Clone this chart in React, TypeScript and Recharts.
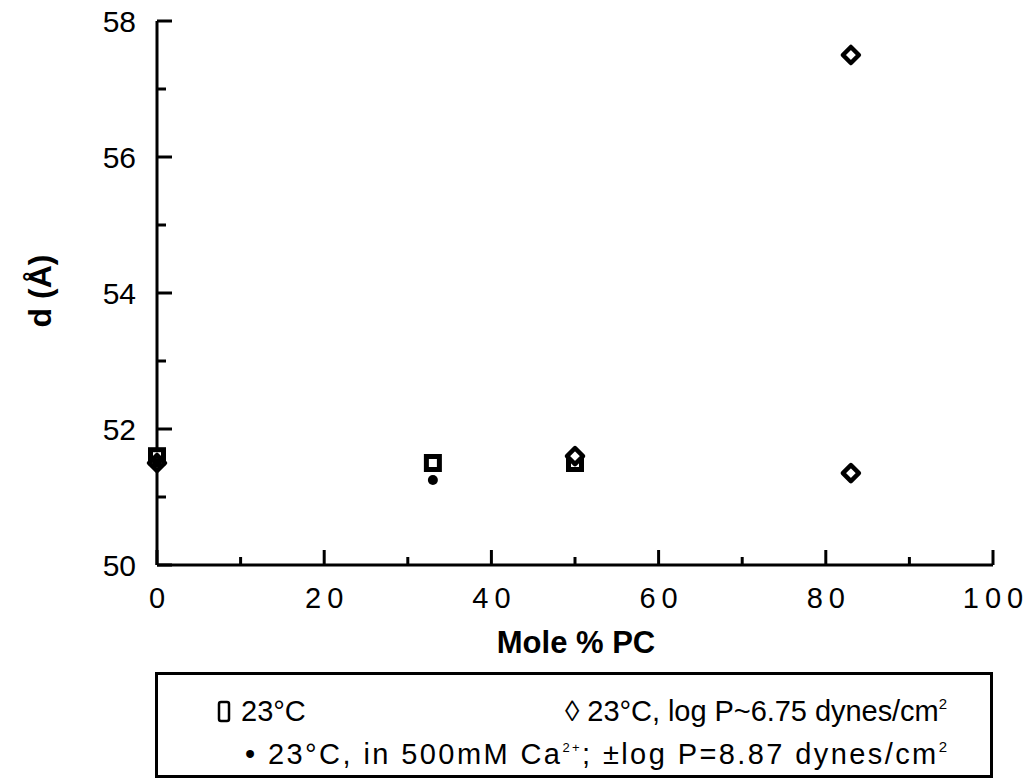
import React from 'react';
import { ScatterChart, Scatter, XAxis, YAxis } from 'recharts';

// Mole % PC values and d-spacing (Å)
const squareX = [0, 33, 50];
const squareY = [51.6, 51.5, 51.5];
const diamondX = [0, 50, 83, 83];
const diamondY = [51.5, 51.6, 57.5, 51.35];
const dotX = [0, 33];
const dotY = [51.5, 51.25];

const xTicks = [0, 10, 20, 30, 40, 50, 60, 70, 80, 90, 100];
const yTicks = [50, 51, 52, 53, 54, 55, 56, 57, 58];

const toPoints = (xs: number[], ys: number[]) => xs.map((x, i) => ({ x, y: ys[i] }));
const squareData = toPoints(squareX, squareY);
const diamondData = toPoints(diamondX, diamondY);
const dotData = toPoints(dotX, dotY);

const FONT = '"Liberation Sans", Arial, Helvetica, sans-serif';

const SquareShape = (p: any) => (
  <rect x={p.cx - 6.5} y={p.cy - 6.5} width={13} height={13} fill="#fff" stroke="#000" strokeWidth={5} />
);
const DiamondShape = (p: any) => (
  <polygon
    points={`${p.cx},${p.cy - 8} ${p.cx + 8},${p.cy} ${p.cx},${p.cy + 8} ${p.cx - 8},${p.cy}`}
    fill="#fff" stroke="#000" strokeWidth={4.5} strokeLinejoin="round"
  />
);
const DotShape = (p: any) => <circle cx={p.cx} cy={p.cy} r={5} fill="#000" />;

const XTick = (props: any) => {
  const { x, y, payload } = props;
  const major = payload.value % 20 === 0;
  return (
    <g>
      <line x1={x} x2={x} y1={y} y2={y - (major ? 15 : 8)} stroke="#000" strokeWidth={3} />
      {major && (
        <text x={x + 3} y={y + 43} textAnchor="middle" fontSize={29} letterSpacing={6} fontFamily={FONT} fill="#000">
          {payload.value}
        </text>
      )}
    </g>
  );
};

const YTick = (props: any) => {
  const { x, y, payload } = props;
  const major = payload.value % 2 === 0;
  return (
    <g>
      <line x1={x} x2={x + (major ? 15 : 9)} y1={y} y2={y} stroke="#000" strokeWidth={3} />
      {major && (
        <text x={x - 21} y={y} dy="0.36em" textAnchor="end" fontSize={30} fontFamily={FONT} fill="#000">
          {payload.value}
        </text>
      )}
    </g>
  );
};

export default function App() {
  return (
    <div style={{ position: 'absolute', left: 0, top: 0, width: 1033, height: 780, background: '#fff', fontFamily: FONT }}>
      <ScatterChart width={1033} height={780} margin={{ top: 21, right: 40, left: 0, bottom: 0 }}>
        <XAxis
          type="number"
          dataKey="x"
          domain={[0, 100]}
          ticks={xTicks}
          interval={0}
          height={215}
          tickSize={0}
          tickMargin={0}
          tickLine={false}
          axisLine={{ stroke: '#000', strokeWidth: 3 }}
          tick={<XTick />}
          label={{
            content: () => (
              <text x={576} y={653} textAnchor="middle" fontSize={31} fontWeight="bold" fontFamily={FONT} fill="#000">
                Mole % PC
              </text>
            ),
          }}
        />
        <YAxis
          type="number"
          dataKey="y"
          domain={[50, 58]}
          ticks={yTicks}
          interval={0}
          width={157}
          tickSize={0}
          tickMargin={0}
          tickLine={false}
          axisLine={{ stroke: '#000', strokeWidth: 3 }}
          tick={<YTick />}
          label={{
            content: () => (
              <text x={51} y={291} transform="rotate(-90, 51, 291)" textAnchor="middle" fontSize={32} fontWeight="bold" fontFamily={FONT} fill="#000">
                d (Å)
              </text>
            ),
          }}
        />
        <Scatter data={squareData} shape={SquareShape} isAnimationActive={false} />
        <Scatter data={diamondData} shape={DiamondShape} isAnimationActive={false} />
        <Scatter data={dotData} shape={DotShape} isAnimationActive={false} />
      </ScatterChart>
      <div
        style={{
          position: 'absolute', left: 155, top: 672, width: 838, height: 106,
          border: '3px solid #000', boxSizing: 'border-box', background: '#fff',
        }}
      >
        <svg style={{ position: 'absolute', left: -3, top: -3 }} width={838} height={106} fontFamily={FONT} fontSize={29}>
          <rect x={64} y={30} width={10} height={19} rx={2} fill="none" stroke="#000" strokeWidth={2.5} />
          <text x={86} y={49}>23°C</text>
          <text x={410} y={49} textLength={382} lengthAdjust="spacing">
            ◊ 23°C, log P~6.75 dynes/cm<tspan fontSize={15} dy={-12}>2</tspan>
          </text>
          <text x={90} y={92} textLength={702} lengthAdjust="spacing">
            • 23°C, in 500mM Ca<tspan fontSize={13} dy={-12}>2+</tspan>
            <tspan dy={12}>; ±log P=8.87 dynes/cm</tspan>
            <tspan fontSize={15} dy={-12}>2</tspan>
          </text>
        </svg>
      </div>
    </div>
  );
}
